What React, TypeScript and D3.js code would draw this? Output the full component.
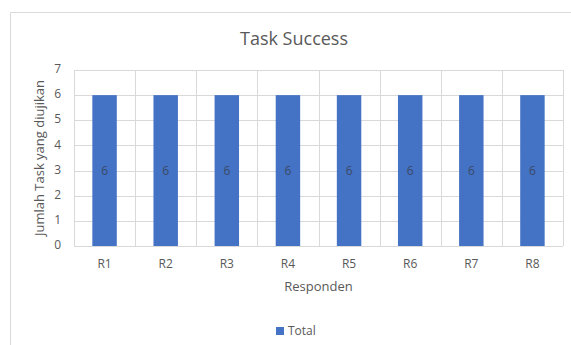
import React from "react";
import * as d3 from "d3";

const categories = ["R1", "R2", "R3", "R4", "R5", "R6", "R7", "R8"];
const totals = [6, 6, 6, 6, 6, 6, 6, 6];
const yTicks = [0, 1, 2, 3, 4, 5, 6, 7];

const W = 571;
const H = 345;
const margin = { left: 74, right: 8, top: 70, bottom: 99 };
const font = "'Open Sans', 'Liberation Sans', sans-serif";
const textColor = "#595959";
const gridColor = "#d9d9d9";
const barColor = "#4472C4";

export default function App() {
  const x = d3
    .scaleBand<string>()
    .domain(categories)
    .range([margin.left, W - margin.right])
    .paddingInner(0)
    .paddingOuter(0);
  const y = d3.scaleLinear().domain([0, 7]).range([H - margin.bottom, margin.top]);
  const barW = x.bandwidth() * 0.4;
  const plotCx = (margin.left + W - margin.right) / 2;
  const boundaries = [...categories.map((c) => x(c) as number), W - margin.right];

  return (
    <svg
      width={W}
      height={H}
      style={{ position: "absolute", left: 0, top: 0, background: "#fff" }}
      fontFamily={font}
    >
      <rect x={0} y={0} width={W} height={H} fill="#fff" />
      {/* chart frame */}
      <path d={`M10.5,${H} V12.5 H${W}`} fill="none" stroke={gridColor} strokeWidth={1} />

      <text x={294} y={45} textAnchor="middle" fontSize={18} fill={textColor}>
        Task Success
      </text>

      {/* horizontal gridlines */}
      {yTicks.map((t) => (
        <line
          key={"h" + t}
          x1={margin.left}
          x2={W - margin.right}
          y1={Math.round(y(t)) + 0.5}
          y2={Math.round(y(t)) + 0.5}
          stroke={gridColor}
          strokeWidth={1}
        />
      ))}
      {/* vertical gridlines */}
      {boundaries.map((bx, i) => (
        <line
          key={"v" + i}
          x1={Math.round(bx) + 0.5}
          x2={Math.round(bx) + 0.5}
          y1={y(7)}
          y2={y(0)}
          stroke={gridColor}
          strokeWidth={1}
        />
      ))}

      {/* bars */}
      {categories.map((c, i) => {
        const cx = (x(c) as number) + x.bandwidth() / 2;
        return (
          <g key={c}>
            <rect
              x={cx - barW / 2}
              y={y(totals[i])}
              width={barW}
              height={y(0) - y(totals[i])}
              fill={barColor}
            />
            <text
              x={cx}
              y={y(totals[i] / 2) + 1.5}
              textAnchor="middle"
              dominantBaseline="middle"
              fontSize={12}
              fill="#3a4a66"
            >
              {totals[i]}
            </text>
          </g>
        );
      })}

      {/* y tick labels */}
      {yTicks.map((t) => (
        <text
          key={"yl" + t}
          x={61}
          y={y(t)}
          textAnchor="end"
          dominantBaseline="middle"
          fontSize={12}
          fill={textColor}
        >
          {t}
        </text>
      ))}

      {/* x tick labels */}
      {categories.map((c) => (
        <text
          key={"xl" + c}
          x={(x(c) as number) + x.bandwidth() / 2}
          y={265}
          textAnchor="middle"
          dominantBaseline="middle"
          fontSize={12}
          fill={textColor}
        >
          {c}
        </text>
      ))}

      <text
        x={plotCx}
        y={288}
        textAnchor="middle"
        dominantBaseline="middle"
        fontSize={13}
        fill={textColor}
      >
        Responden
      </text>
      <text
        transform={`translate(41,158) rotate(-90)`}
        textAnchor="middle"
        dominantBaseline="middle"
        fontSize={13}
        fill={textColor}
      >
        Jumlah Task yang diujikan
      </text>

      {/* legend */}
      <rect x={276} y={327} width={8} height={8} fill={barColor} />
      <text x={288} y={331.5} dominantBaseline="middle" fontSize={12} fill={textColor}>
        Total
      </text>
    </svg>
  );
}
